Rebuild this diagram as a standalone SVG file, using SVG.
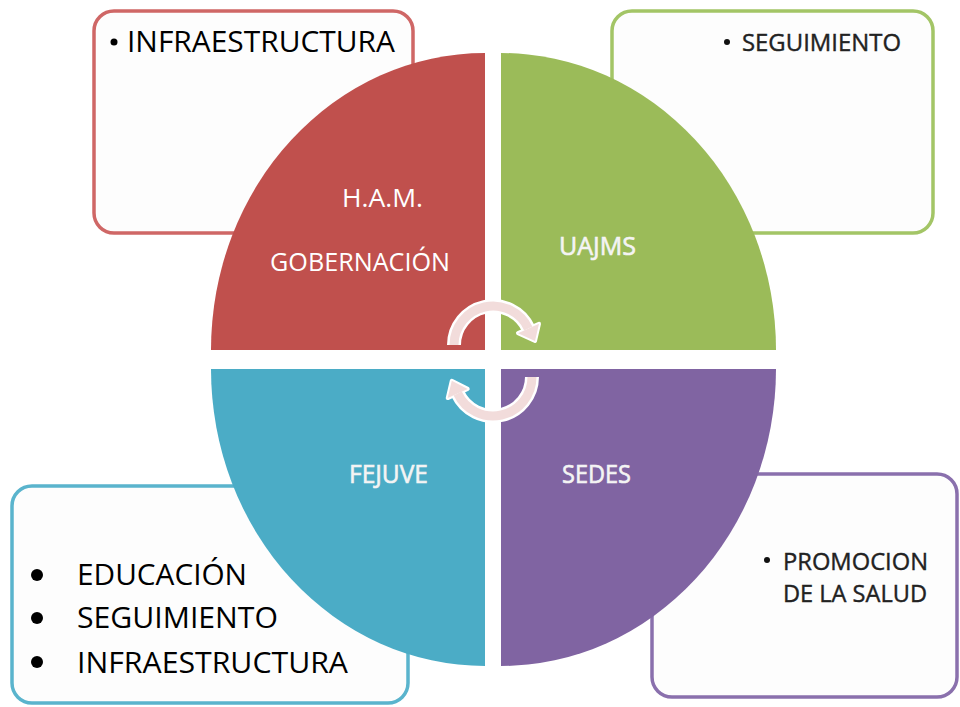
<svg xmlns="http://www.w3.org/2000/svg" width="960" height="707" viewBox="0 0 960 707">
<style>
.box{fill:#fdfdfd;stroke-width:3.5}
.btxt{font-family:"Open Sans","Noto Sans","Liberation Sans",sans-serif;fill:#000}
.stxt{font-family:"Open Sans","Noto Sans","Liberation Sans",sans-serif;fill:#222;stroke:#222;stroke-width:0.4}
.lbl{font-family:"Open Sans","Noto Sans","Liberation Sans",sans-serif;fill:#fff;font-size:25px}
.lblb{stroke:#f4f4f4;stroke-width:0.6;fill:#f4f4f4}
.arrw{fill:none;stroke:#fff;stroke-width:14}
.arrp{fill:none;stroke:#f2dcdb;stroke-width:9}
.headw{fill:#fff;stroke:#fff;stroke-width:4;stroke-linejoin:round}
.headp{fill:#f2dcdb}
</style>
<rect width="960" height="707" fill="#fff"/>
<g id="box-red">
<rect class="box" x="94" y="11" width="319" height="222" rx="20" stroke="#cf6766"/>
<circle cx="114" cy="42" r="3.5" fill="#000"/>
<text class="btxt" x="127" y="52" font-size="30" textLength="268" lengthAdjust="spacingAndGlyphs">INFRAESTRUCTURA</text>
</g>
<g id="box-green">
<rect class="box" x="612" y="11" width="321" height="222" rx="20" stroke="#a3c566"/>
<circle cx="727" cy="42" r="3" fill="#111"/>
<text class="stxt" x="742" y="51" font-size="24" textLength="159" lengthAdjust="spacingAndGlyphs">SEGUIMIENTO</text>
</g>
<g id="box-blue">
<rect class="box" x="12" y="486" width="396" height="217" rx="20" stroke="#5ab4cd"/>
<circle cx="37" cy="575" r="6" fill="#000"/>
<circle cx="37" cy="618" r="6" fill="#000"/>
<circle cx="37" cy="662" r="6" fill="#000"/>
<text class="btxt" x="77" y="585" font-size="30" textLength="170" lengthAdjust="spacingAndGlyphs">EDUCACIÓN</text>
<text class="btxt" x="77" y="628" font-size="30" textLength="201" lengthAdjust="spacingAndGlyphs">SEGUIMIENTO</text>
<text class="btxt" x="77" y="673" font-size="30" textLength="271" lengthAdjust="spacingAndGlyphs">INFRAESTRUCTURA</text>
</g>
<g id="box-purple">
<rect class="box" x="652" y="474" width="305" height="223" rx="20" stroke="#8a70ad"/>
<circle cx="767" cy="560" r="3" fill="#111"/>
<text class="stxt" x="783" y="570" font-size="24" textLength="145" lengthAdjust="spacingAndGlyphs">PROMOCION</text>
<text class="stxt" x="783" y="602" font-size="24" textLength="144" lengthAdjust="spacingAndGlyphs">DE LA SALUD</text>
</g>
<g id="q-red">
<path d="M485,350 L211,350 A274,297 0 0 1 485,53 Z" fill="#c0504d"/>
<text class="lbl" x="342" y="207" textLength="81" lengthAdjust="spacingAndGlyphs">H.A.M.</text>
<text class="lbl" x="270" y="271" textLength="180" lengthAdjust="spacingAndGlyphs">GOBERNACIÓN</text>
</g>
<g id="q-green">
<path d="M501,350 L501,53 A275,297 0 0 1 776,350 Z" fill="#9bbb59"/>
<text class="lbl lblb" x="559" y="255" textLength="77" lengthAdjust="spacingAndGlyphs">UAJMS</text>
</g>
<g id="q-blue">
<path d="M485,369 L485,666 A274,297 0 0 1 211,369 Z" fill="#4bacc6"/>
<text class="lbl lblb" x="349" y="483" textLength="79" lengthAdjust="spacingAndGlyphs">FEJUVE</text>
</g>
<g id="q-purple">
<path d="M501,369 L776,369 A275,297 0 0 1 501,666 Z" fill="#8064a2"/>
<text class="lbl lblb" x="562" y="483" textLength="69" lengthAdjust="spacingAndGlyphs">SEDES</text>
</g>
<g id="connectors">
<path class="arrw" d="M454,345 A39,39 0 0 1 528.3,328.5"/>
<polygon class="headw" points="535,341 539,323.8 518,333.2"/>
<path class="arrw" d="M532,377 A39,39 0 0 1 457.7,393.5"/>
<polygon class="headw" points="451.8,380.8 447.7,398.1 467.7,388.9"/>
<path class="arrp" d="M454,345 A39,39 0 0 1 528.3,328.5"/>
<polygon class="headp" points="535,341 539,323.8 518,333.2"/>
<path class="arrp" d="M532,377 A39,39 0 0 1 457.7,393.5"/>
<polygon class="headp" points="451.8,380.8 447.7,398.1 467.7,388.9"/>
</g>
</svg>
